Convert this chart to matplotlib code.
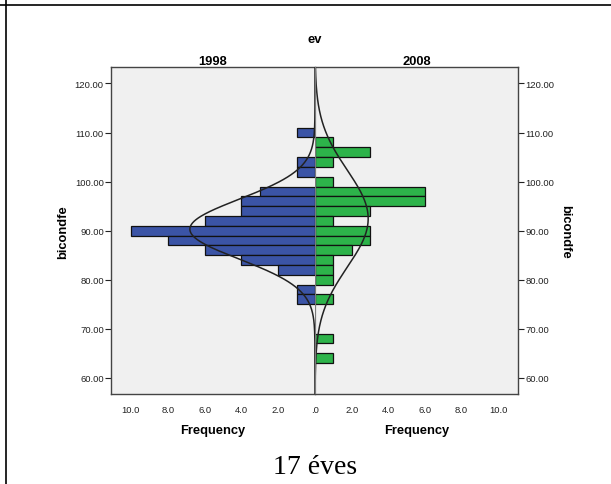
import matplotlib.pyplot as plt
import numpy as np
from matplotlib.lines import Line2D

# binned frequencies of bicondfe (bin width 2)
bins_1998 = [110, 104, 102, 98, 96, 94, 92, 90, 88, 86, 84, 82, 78, 76]
freq_1998 = [1, 1, 1, 3, 4, 4, 6, 10, 8, 6, 4, 2, 1, 1]
bins_2008 = [108, 106, 104, 100, 98, 96, 94, 92, 90, 88, 86, 84, 82, 80, 76, 68, 64]
freq_2008 = [1, 3, 1, 1, 6, 6, 3, 1, 3, 3, 2, 1, 1, 1, 1, 1, 1]
yticks = [60, 70, 80, 90, 100, 110, 120]
xticks = [0, 2, 4, 6, 8, 10]
binw = 2.0

plt.rcParams['font.family'] = ['Liberation Sans', 'DejaVu Sans']

fig = plt.figure(figsize=(6.11, 4.85), dpi=100)
W, H = 611, 485
y0, y1 = 395, 68.3
axl = fig.add_axes([110.7 / W, (H - y0) / H, (315 - 110.7) / W, (y0 - y1) / H])
axr = fig.add_axes([315 / W, (H - y0) / H, (518.3 - 315) / W, (y0 - y1) / H], sharey=axl)

ygrid = np.linspace(56.7, 123.3, 400)


def normal_curve(bins, freq):
    vals = np.repeat(bins, freq).astype(float)
    m = vals.mean()
    s = vals.std(ddof=1)
    n = len(vals)
    return n * binw / (s * np.sqrt(2 * np.pi)) * np.exp(-0.5 * ((ygrid - m) / s) ** 2)


for ax, bins, freq, col in [(axl, bins_1998, freq_1998, '#3B54A6'),
                            (axr, bins_2008, freq_2008, '#2DB34A')]:
    ax.set_facecolor('#F0F0F0')
    ax.barh(bins, freq, height=binw, color=col, edgecolor='#111111', linewidth=0.9, zorder=2)
    ax.plot(normal_curve(bins, freq), ygrid, color='#222222', lw=1.1, zorder=3)
    ax.set_xlim(0, 11.1)
    ax.set_ylim(56.7, 123.3)
    ax.set_xticks(xticks)
    ax.tick_params(axis='x', length=0, labelsize=6.8, pad=8, colors='#222222')
    ax.set_xlabel('Frequency', fontsize=9.3, fontweight='bold', labelpad=7)
    for sp in ax.spines.values():
        sp.set_color('#444444')
        sp.set_linewidth(1.0)

axl.invert_xaxis()
axl.set_xticklabels(['.0', '2.0', '4.0', '6.0', '8.0', '10.0'])
axr.set_xticklabels(['', '2.0', '4.0', '6.0', '8.0', '10.0'])

axl.set_yticks(yticks)
axl.set_yticklabels(['%.2f' % v for v in yticks])
axl.tick_params(axis='y', labelsize=6.8, length=4, direction='out', colors='#222222', pad=1)
axl.spines['right'].set_visible(False)
axl.set_ylabel('bicondfe', fontsize=9.3, fontweight='bold', labelpad=4)

axr.yaxis.tick_right()
axr.yaxis.set_label_position('right')
axr.tick_params(axis='y', labelsize=6.8, length=4, direction='out', colors='#222222', pad=1,
                labelright=True, labelleft=False)
axr.spines['left'].set_visible(False)
axr.set_ylabel('bicondfe', fontsize=9.3, fontweight='bold', rotation=-90, labelpad=12)

# centre line between the two halves
axr.axvline(0, color='#7A7A7A', lw=1.6, zorder=4)

axl.set_title('1998', fontsize=9.3, fontweight='bold', pad=2)
axr.set_title('2008', fontsize=9.3, fontweight='bold', pad=2)
fig.text(315 / W, 1 - 40 / H, 'ev', ha='center', va='center', fontsize=9.3, fontweight='bold')

fig.text(315 / W, 1 - 468 / H, '17 éves', ha='center', va='center', fontsize=20,
         family=['Liberation Serif', 'DejaVu Serif'])

# table borders around the chart
fig.add_artist(Line2D([0, 1], [1 - 6 / H, 1 - 6 / H], color='black', lw=1.2))
fig.add_artist(Line2D([6 / W, 6 / W], [0, 1], color='black', lw=1.2))

fig.savefig('out.png', dpi=100)
